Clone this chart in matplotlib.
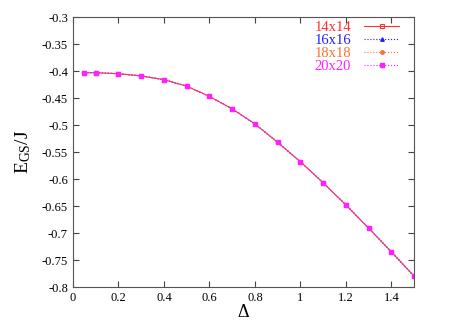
import matplotlib
matplotlib.use("Agg")
import matplotlib.pyplot as plt

plt.rcParams['font.family'] = ['Liberation Serif', 'DejaVu Serif']
plt.rcParams['mathtext.fontset'] = 'custom'
plt.rcParams['mathtext.rm'] = 'Liberation Serif'
plt.rcParams['mathtext.it'] = 'Liberation Serif:italic'

delta = [0.05, 0.1, 0.2, 0.3, 0.4, 0.5, 0.6, 0.7, 0.8, 0.9, 1.0, 1.1, 1.2, 1.3, 1.4, 1.5]
e_14 = [-0.403, -0.403, -0.405, -0.409, -0.416, -0.428, -0.447, -0.470, -0.498,
        -0.532, -0.568, -0.607, -0.648, -0.691, -0.735, -0.780]
e_16 = [-0.403, -0.403, -0.405, -0.409, -0.416, -0.428, -0.447, -0.470, -0.498,
        -0.532, -0.568, -0.607, -0.648, -0.691, -0.735, -0.780]
e_18 = [-0.403, -0.403, -0.405, -0.409, -0.416, -0.428, -0.447, -0.470, -0.498,
        -0.532, -0.568, -0.607, -0.648, -0.691, -0.735, -0.780]
e_20 = [-0.403, -0.403, -0.405, -0.409, -0.416, -0.428, -0.447, -0.470, -0.498,
        -0.532, -0.568, -0.607, -0.648, -0.691, -0.735, -0.780]
labels = ['14x14', '16x16', '18x18', '20x20']

fig = plt.figure(figsize=(4.67, 3.27), dpi=100)
ax = fig.add_axes([0.156, 0.122, 0.731, 0.826])

ax.plot(delta, e_14, color='#ff3030', ls='-', lw=0.8, marker='s', ms=3, mfc='none', mew=0.8, label=labels[0])
ax.plot(delta, e_16, color='#2020ff', ls=':', lw=0.8, marker='^', ms=2.5, label=labels[1])
ax.plot(delta, e_18, color='#ff7030', ls=':', lw=0.8, marker='o', ms=2.5, label=labels[2])
ax.plot(delta, e_20, color='#ff20ff', ls=':', lw=0.8, marker='s', ms=2.5, label=labels[3])

ax.set_xlim(0, 1.5)
ax.set_ylim(-0.8, -0.3)
ax.set_xticks([0, 0.2, 0.4, 0.6, 0.8, 1, 1.2, 1.4])
ax.set_xticklabels(['0', '0.2', '0.4', '0.6', '0.8', '1', '1.2', '1.4'])
yt = [-0.8, -0.75, -0.7, -0.65, -0.6, -0.55, -0.5, -0.45, -0.4, -0.35, -0.3]
ax.set_yticks(yt)
ax.set_yticklabels(['-0.8', '-0.75', '-0.7', '-0.65', '-0.6', '-0.55', '-0.5',
                    '-0.45', '-0.4', '-0.35', '-0.3'])
ax.tick_params(direction='in', top=True, right=True, length=4, labelsize=9, color='#444444')
for s in ax.spines.values():
    s.set_color('#555555')

ax.set_xlabel('Δ', fontsize=13, labelpad=0)
ax.set_ylabel(r'E$_{\rm GS}$/J', fontsize=14, labelpad=6)

ax.legend(loc='upper right', bbox_to_anchor=(0.96, 0.992), frameon=False, markerfirst=False,
          labelcolor='linecolor', numpoints=1, fontsize=10.5, handlelength=2.4,
          handletextpad=0.9, labelspacing=0.0, borderpad=0.1, borderaxespad=0)

fig.savefig('out.png', dpi=100)
